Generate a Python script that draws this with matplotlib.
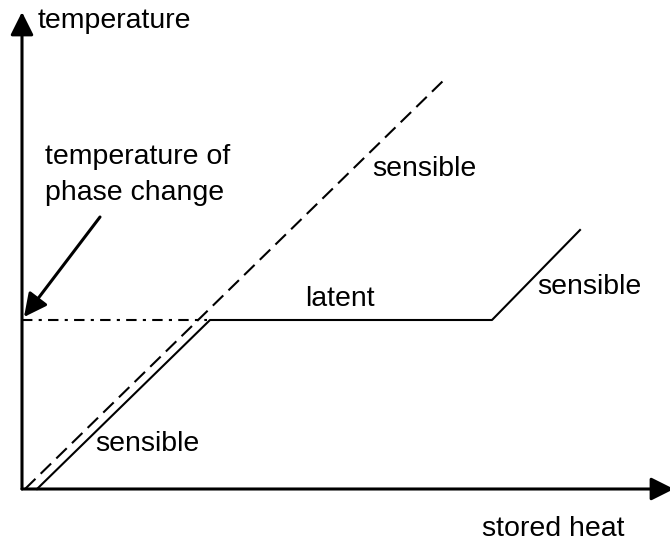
import matplotlib.pyplot as plt

# schematic data: stored heat (x) vs temperature (y), arbitrary units
pcm_heat = [15, 188, 470, 558]        # solid line: sensible -> latent -> sensible
pcm_temp = [0, 169, 169, 259]
sens_heat = [3, 423]                  # dashed line: sensible only material
sens_temp = [0, 410]
phase_heat = [0, 185]                 # phase change temperature level
phase_temp = [169, 169]

plt.rcParams['font.family'] = ['Liberation Sans', 'DejaVu Sans']
FS = 20.5

fig = plt.figure(figsize=(6.7, 5.41), dpi=100)
ax = fig.add_axes([0, 0, 1, 1])
ax.set_xlim(-22, 648)
ax.set_ylim(-52, 489)
ax.axis('off')

# axes with arrows
arrow = dict(arrowstyle='-|>,head_length=0.7,head_width=0.35', color='black', lw=2.2,
             mutation_scale=20, shrinkA=0, shrinkB=0)
ax.annotate('', xy=(0, 477), xytext=(0, 0), arrowprops=arrow, annotation_clip=False)
ax.annotate('', xy=(652, 0), xytext=(0, 0), arrowprops=arrow, annotation_clip=False)

# curves
ax.plot(pcm_heat, pcm_temp, color='black', lw=1.5)
ax.plot(sens_heat, sens_temp, color='black', lw=1.5, linestyle=(0, (7, 3.5)))
ax.plot(phase_heat, phase_temp, color='black', lw=1.5, linestyle=(0, (5, 3, 1.5, 3)))

# annotation arrow to phase change temperature
ax.annotate('', xy=(2, 172), xytext=(78, 272), arrowprops=arrow, annotation_clip=False)

# labels
ax.text(16, 468, 'temperature', fontsize=FS, va='center', ha='left')
ax.text(23, 314, 'temperature of\nphase change', fontsize=FS, va='center', ha='left', linespacing=1.45)
ax.text(350, 320, 'sensible', fontsize=FS, va='center', ha='left')
ax.text(283, 190, 'latent', fontsize=FS, va='center', ha='left')
ax.text(515, 202, 'sensible', fontsize=FS, va='center', ha='left')
ax.text(73, 45, 'sensible', fontsize=FS, va='center', ha='left')
ax.text(460, -40, 'stored heat', fontsize=FS, va='center', ha='left')

fig.savefig('out.png', dpi=100)
